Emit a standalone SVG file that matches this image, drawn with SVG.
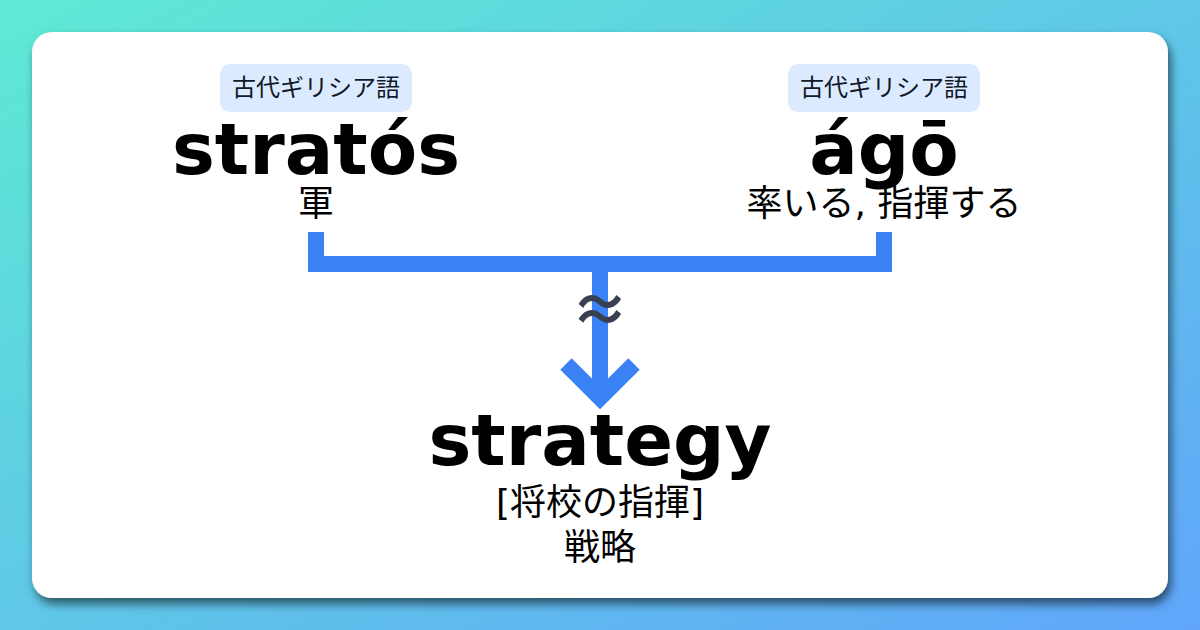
<svg xmlns="http://www.w3.org/2000/svg" width="1200" height="630" viewBox="0 0 1200 630">
  <defs>
    <linearGradient id="bg" x1="0" y1="0" x2="1" y2="1">
      <stop offset="0" stop-color="#5EEAD4"/>
      <stop offset="1" stop-color="#60A5FA"/>
    </linearGradient>
    <filter id="shadow" x="-10%" y="-10%" width="120%" height="130%">
      <feDropShadow dx="3" dy="6" stdDeviation="5" flood-color="#000" flood-opacity="0.55"/>
    </filter>
    <style>
      .word { font-family: "DejaVu Sans", "Noto Sans CJK JP", sans-serif; font-weight: bold; font-size: 72px; fill: #000; text-anchor: middle; }
      .gloss { font-family: "DejaVu Sans", "Noto Sans CJK JP", sans-serif; font-size: 36px; fill: #000; text-anchor: middle; }
      .badge { fill: #DBEAFE; }
      .badgetext { font-family: "Noto Sans CJK JP", sans-serif; font-size: 24px; fill: #111827; text-anchor: middle; }
      .conn { fill: none; stroke: #3B82F6; stroke-width: 16; stroke-linejoin: miter; stroke-linecap: butt; }
      .approx { font-family: "Noto Sans CJK JP", sans-serif; font-weight: 700; font-size: 58px; fill: #374151; text-anchor: middle; }
    </style>
  </defs>
  <rect x="0" y="0" width="1200" height="630" fill="url(#bg)"/>
  <rect x="32" y="32" width="1136" height="566" rx="20" ry="20" fill="#fff" filter="url(#shadow)"/>

  <g id="connectors">
    <path class="conn" d="M316,232 V264 H884 V232"/>
    <path class="conn" d="M600,264 V398"/>
    <path class="conn" d="M566,364 L600,398 L634,364"/>
    <text class="approx" x="600" y="331">≈</text>
  </g>

  <g id="node-stratos">
    <rect class="badge" x="220" y="64" width="192" height="48" rx="10"/>
    <text class="badgetext" x="316" y="96">古代ギリシア語</text>
    <text class="word" x="316" y="174">stratós</text>
    <text class="gloss" x="316" y="216">軍</text>
  </g>

  <g id="node-ago">
    <rect class="badge" x="788" y="64" width="192" height="48" rx="10"/>
    <text class="badgetext" x="884" y="96">古代ギリシア語</text>
    <text class="word" x="884" y="174">ágō</text>
    <text class="gloss" x="884" y="216">率いる, 指揮する</text>
  </g>

  <g id="node-strategy">
    <text class="word" x="600" y="465">strategy</text>
    <text class="gloss" x="600" y="515">[将校の指揮]</text>
    <text class="gloss" x="600" y="560">戦略</text>
  </g>
</svg>
